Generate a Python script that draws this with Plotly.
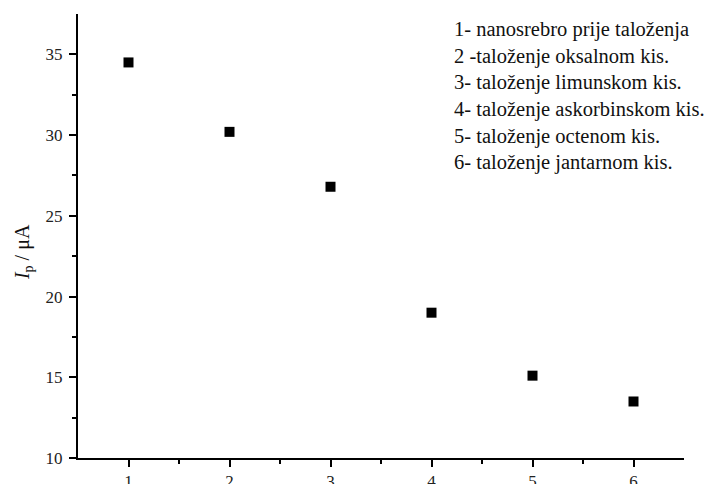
import plotly.graph_objects as go

samples = [1, 2, 3, 4, 5, 6]
ip_values = [34.5, 30.2, 26.8, 19.0, 15.1, 13.5]
legend_lines = [
    "1- nanosrebro prije taloženja",
    "2 -taloženje oksalnom kis.",
    "3- taloženje limunskom kis.",
    "4- taloženje askorbinskom kis.",
    "5- taloženje octenom kis.",
    "6- taloženje jantarnom kis.",
]
x_ticks = [1, 2, 3, 4, 5, 6]
y_ticks = [10, 15, 20, 25, 30, 35]

FONT = "Liberation Serif"

fig = go.Figure()
fig.add_trace(go.Scatter(
    x=samples, y=ip_values, mode="markers",
    marker=dict(symbol="square", size=10, color="black", line=dict(width=0)),
    showlegend=False,
))

axis_common = dict(
    showgrid=False, zeroline=False, showline=True, linecolor="black", linewidth=2,
    ticks="outside", ticklen=7, tickwidth=2, tickcolor="black",
    tickfont=dict(family=FONT, size=17, color="#222"),
    automargin=False,
)

fig.update_xaxes(range=[0.5, 6.5], tickvals=x_ticks, ticklabelstandoff=0, **axis_common)
fig.update_xaxes(minor=dict(ticks="outside", ticklen=4, tickwidth=2, tickcolor="black",
                            tickvals=[1.5, 2.5, 3.5, 4.5, 5.5]))
fig.update_yaxes(range=[10, 37.5], tickvals=y_ticks, ticklabelstandoff=3, **axis_common)
fig.update_yaxes(minor=dict(ticks="outside", ticklen=4, tickwidth=2, tickcolor="black",
                            tickvals=[12.5, 17.5, 22.5, 27.5, 32.5]))

fig.add_annotation(
    xref="paper", yref="paper", x=0.617, y=0.995, xanchor="left", yanchor="top",
    text="<br>".join(legend_lines), showarrow=False, align="left",
    font=dict(family=FONT, size=20.5, color="#111"),
)
fig.add_annotation(
    xref="paper", yref="paper", x=-0.089, y=0.464, xanchor="center", yanchor="middle",
    text="<i>I</i><sub>p</sub> / μA", showarrow=False, textangle=-90,
    font=dict(family=FONT, size=20, color="#111"),
)

# page body adds an 8px margin, so the figure is sized to fit the 712x484 window
fig.update_layout(
    width=704, height=476,
    margin=dict(l=70, r=28, t=6, b=26),
    plot_bgcolor="white", paper_bgcolor="white",
)

fig.write_html("out.html")
